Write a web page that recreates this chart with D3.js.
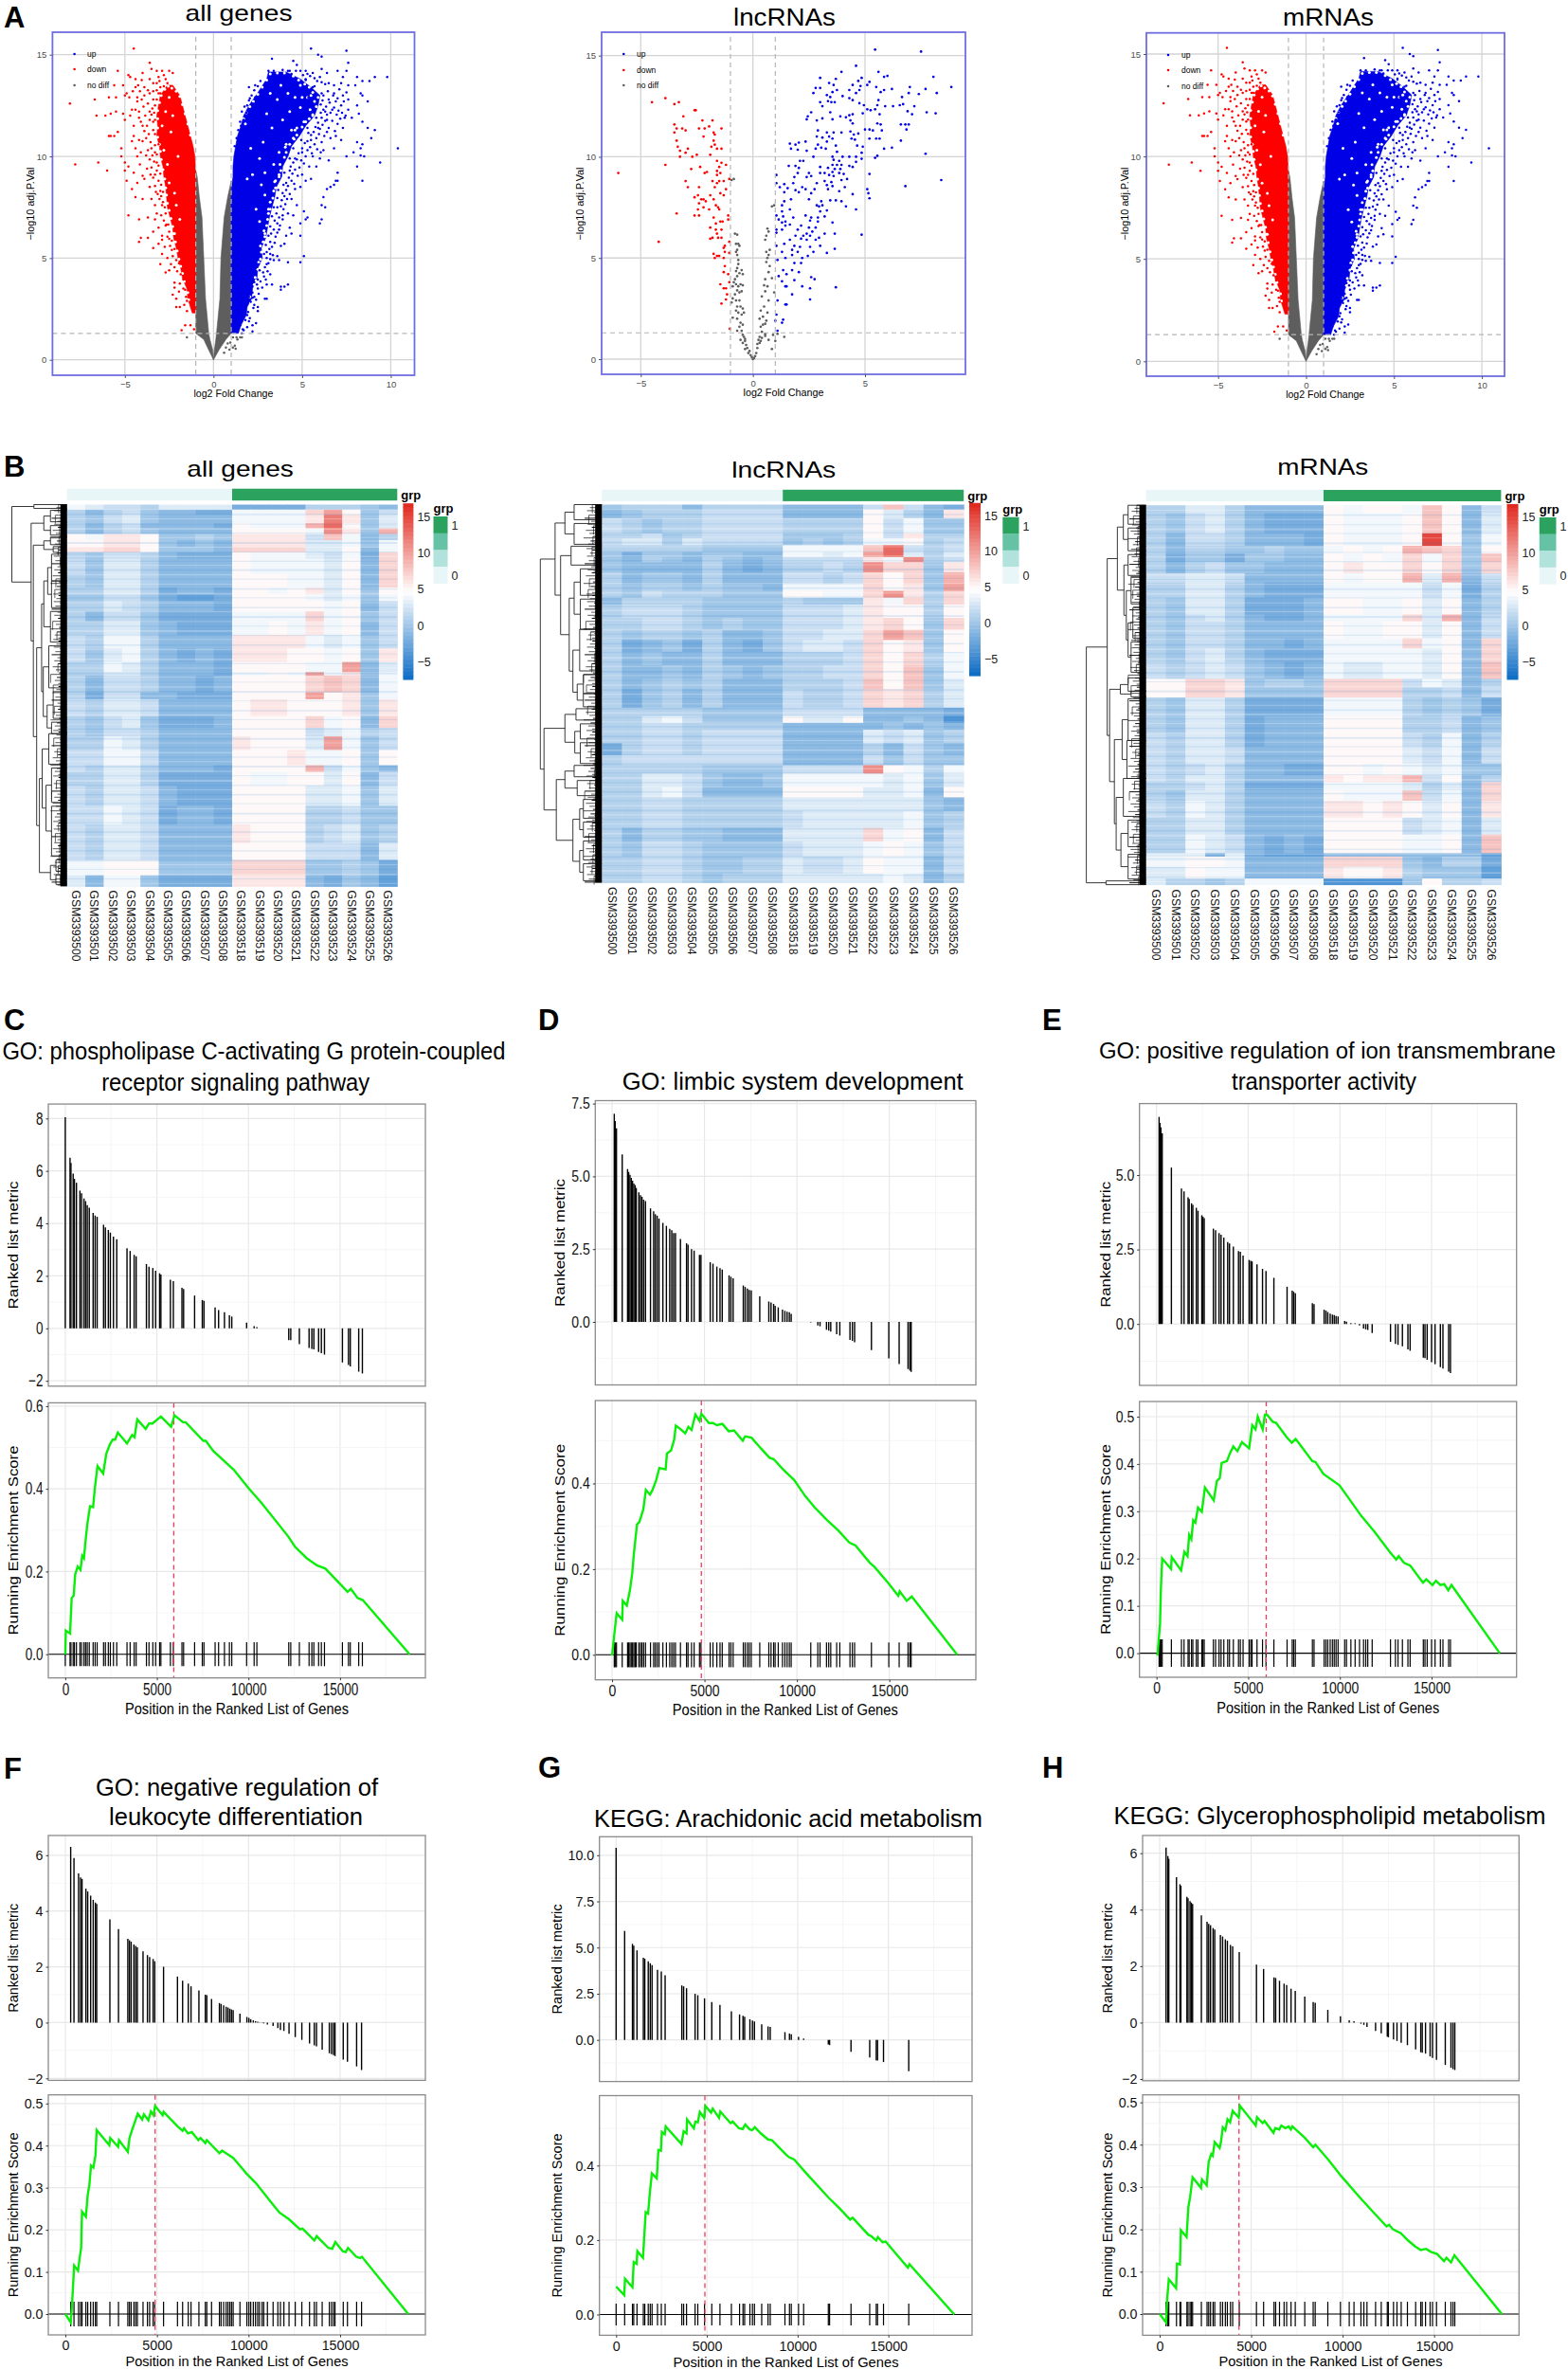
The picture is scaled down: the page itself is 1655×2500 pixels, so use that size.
<!DOCTYPE html>
<html>
<head>
<meta charset="utf-8">
<script src="https://cdn.jsdelivr.net/npm/d3@7"></script>
<style>
body { margin: 0; background: #fff; }
text { font-family: "Liberation Sans", Arial, sans-serif; }
</style>
</head>
<body>
<div id="chart"></div>
<script>
// ---------- volcano data (log2FC, -log10 adj.P) ----------
// dense parts of the two big clouds: [y, x0, x1]
const bigUpCore = [[1.3,1,1.4],[1.7,1,1.55],[2.2,1,1.85],[2.6,1,1.9],[3,1,2.15],[3.5,1,2.2],[4,1,2.45],[4.5,1,2.5],[5,1,2.75],[5.5,1,2.7],[6,1,2.95],[6.5,1,3.05],[7,1,3.15],[7.5,1,3.3],[8,1,3.45],[8.5,1.02,3.55],[9,1.1,3.85],[9.5,1.1,3.9],[10,1.15,4.2],[10.5,1.25,4.4],[11,1.35,4.85],[11.5,1.55,5.2],[12,1.7,5.7],[12.5,2,5.9],[13,2.4,6],[13.4,2.7,5.5],[13.8,3,4.9],[14.15,3.1,4.1]]
const bigDownCore = [[2.3,-1,-1.2],[3,-1,-1.45],[3.5,-1,-1.5],[4,-1,-1.75],[4.5,-1,-1.85],[5,-1,-2],[5.5,-1,-2.1],[6,-1,-2.25],[6.5,-1,-2.3],[7,-1,-2.45],[7.5,-1,-2.6],[8,-1,-2.65],[8.5,-1,-2.7],[9,-1,-2.8],[9.5,-1.02,-2.85],[10,-1.05,-3],[10.5,-1.15,-3.05],[11,-1.3,-3.2],[11.5,-1.45,-3.15],[12,-1.6,-3.2],[12.5,-1.75,-3.1],[13,-1.9,-3],[13.5,-2.3,-2.6]]
const bigGreyLeft = [[0,0,0],[.5,-.05,-.28],[1,-.2,-.55],[1.3,-.27,-1],[3,-.45,-1],[5,-.55,-1],[7,-.65,-1],[8,-.8,-1],[9,-.92,-1],[9.3,-1,-1]]
const bigGreyRight = [[0,0,0],[.5,.05,.32],[1,.13,.7],[1.3,.17,1],[3,.36,1],[5,.42,1],[7,.6,1],[8,.8,1],[8.8,1,1]]
const bigUpPoints = [[10.4,10.4],[9.4,9.7],[9.8,13.9],[9.1,13.9],[8.8,13.7],[8.4,13.7],[8.1,13.9],[7.5,15.2],[5.5,15.3],[5.9,15],[6.1,14.9],[3.3,14.8],[4.5,14.7],[4.7,14.5],[7.6,14.6],[7.5,14.2],[7,14.2],[6.4,14.1],[6.1,14.3],[7.3,13.9],[8,13.5],[7.6,13.5],[7.2,13.6],[8.3,13.1],[8.4,13],[8.7,12.7],[8.1,12.5],[8.2,12.1],[7.6,12.3],[7.8,11.9],[8.4,11.7],[8.7,11.4],[9.1,11.3],[8.9,10.9],[8.1,10.7],[8.4,10.6],[8.3,10.4],[7.9,10.2],[8.3,10.05],[8.5,10],[7.5,10],[8.1,9.5],[8.4,8.8],[7,9.2],[6.9,8.8],[6.6,8.5],[6.8,8.6],[7,8.8],[6.2,8],[6.4,8.4],[6.1,7.6],[6.3,7.5],[6.1,6.9],[6,6.7],[5.1,7.3],[5.3,7],[5.2,6.9],[4.9,6.7],[4.9,6.1],[5.1,5.1],[4.9,4.8],[4.2,4.8],[3.7,4.9],[4,3.6],[4.2,3.7],[3.8,3.6],[3.8,3.45],[3.2,4.2],[3.3,3.7],[3,3.7],[2.9,3],[3,3],[2.5,2.6],[2.5,2.4],[2.4,1.8],[2.2,1.7],[2,1.9],[1.9,1.6],[2.2,1.4],[1.6,1.3],[1.8,2.6],[2.2,3.3],[2,3.1],[3.4,4.9],[3.6,5.1],[3.2,5.2],[3,5.3],[3.8,5.6],[4,5.7],[4.4,6.2],[4.3,6.5],[4.1,6.1],[3.7,6.4],[3.6,6.7],[3.9,7.1],[4.2,7.2],[4.5,7.1],[4.7,7.6],[4.4,7.9],[4.6,8.4],[4.9,8.5],[5.2,8.8],[5.5,8.9],[5.8,9.5],[5,9.1],[5.4,9.5],[5.6,10],[6,9.9],[6.2,10.3],[6.5,9.8],[6.8,10.4],[7.2,10.8],[6.6,10.9],[6.9,11],[7.3,11.4],[7,11.6],[7.4,11.9],[6.4,11.2],[6.1,10.7],[5.8,10.9],[5.3,10.3],[7.2,12.5],[7.6,12.8],[7.3,13],[6.8,13.1],[6.5,13.6],[6.8,13.5],[6,13.9],[5.6,14.1],[5.2,14.2],[4.9,14.2],[2,13.4],[1.9,12.5],[2.2,12.6],[1.6,12.2],[1.5,11.7],[1.4,11.3],[1.3,10.9],[1.2,10.5],[5.2,13.8],[5.6,13.4],[6.2,13],[6.5,12.8],[6.7,12.3],[6.4,11.8],[6.9,12.7],[5.9,11.4],[5.5,10.8],[5,10.4],[4.6,9.9],[4.3,9.3],[4.1,8.7],[3.9,8.2],[3.6,7.5],[3.4,6.4],[3.2,5.8],[3,4.7],[2.8,4.3],[2.5,3.5],[2.3,2.7],[1.9,2.2],[1.5,1.7],[1.7,1.45],[3.7,13.9],[4.3,14.2],[3.4,14.2],[3.1,14.2]]
const bigUpFringe = [[1.65,1.5],[1.8,1.95],[1.95,2.35],[2.05,2.05],[2.1,2.85],[2.25,2.55],[2.3,3.1],[2.4,2.95],[2.45,3.7],[2.55,3.25],[2.65,3.85],[2.6,4.4],[2.75,3.55],[2.85,4.1],[2.9,4.55],[2.95,3.95],[3.05,4.35],[3,5],[3.1,4.75],[3.15,5.45],[3.2,4.95],[3.3,5.55],[3.25,6.2],[3.35,5.15],[3.45,5.75],[3.45,6.85],[3.5,6.05],[3.6,6.25],[3.55,7.2],[3.7,7],[3.75,6.6],[3.8,7.55],[3.85,7.85],[3.9,6.9],[3.95,7.4],[4,8.05],[4.05,7.65],[4.1,8.35],[4.15,7.9],[4.2,8.55],[4.25,8.95],[4.3,8.15],[4.35,9.5],[4.4,8.8],[4.45,9.15],[4.5,9.7],[4.55,8.65],[4.6,9.35],[4.7,9.85],[4.75,9.05],[4.8,10.15],[4.85,9.45],[4.95,9.8],[5,10.2],[5.1,9.65],[5.15,10.65],[5.2,10],[5.3,10.75],[5.35,11.15],[5.45,10.45],[5.5,11.05],[5.55,10.15],[5.65,11.2],[5.7,10.6],[5.75,11.45],[5.85,10.35],[5.9,11.65],[5.95,11.1],[6,11.35],[6.05,10.2],[6.1,11.9],[6.15,11.55],[6.2,12.3],[6.25,11],[6.3,11.75],[6.35,12.45],[6.4,12.05],[6.45,13.2],[6.5,11.4],[6.55,12.65],[6.6,12.15],[6.7,11.75],[6.75,13],[6.8,12.4],[6.85,11.25],[6.95,12.05],[7,12.85],[7.05,12.25],[7.1,13.3],[7.15,11.85],[7.25,12.15],[7.35,12.7],[7.45,12],[7.5,13.15],[6.3,13.55],[6.1,13.65],[5.85,13.7],[5.7,13.85],[5.45,13.95],[5.3,14.05],[5.05,14],[4.65,14.2],[4.4,14.05],[3.9,14.25],[2.65,13.7],[2.5,13.45],[2.3,13.25],[2.15,13],[2.05,12.85],[1.85,12.15],[1.7,11.8],[1.55,11.5],[1.75,12.45],[2,12.75],[2.35,13.5],[5.35,12.9],[5.5,12.6],[6.05,12.55],[6.15,12.75],[6.3,12.2],[2.2,3.05],[2.5,3.95],[2.55,4.7],[2.85,5.2],[2.95,5.65],[3.1,6.1],[3.2,6.55],[3.3,7.05],[3.4,7.5],[3.6,7.95],[3.65,8.35],[3.95,8.6],[4,9.2],[4.3,9.9],[4.5,10.4],[4.95,10.8],[5.3,11.4],[5.8,11.9],[6.05,12.15],[6.1,13.1],[5.7,13.45],[5.2,13.75],[4.2,14.2],[2.1,12.2],[2.35,12.9]]
const bigDownPoints = [[-8.1,12.6],[-7.8,9.6],[-6.7,12.8],[-6.6,12],[-6.5,9.7],[-6.1,12],[-6,9.3],[-5.9,11],[-5.8,12.1],[-5.8,11],[-5.6,11],[-5.5,12.9],[-5.9,12.9],[-5.5,12.2],[-5.4,11.2],[-5.4,14.2],[-5.6,13.5],[-4.5,15.3],[-5.1,13.5],[-5,13],[-5,9.3],[-4.8,14],[-4.7,13.9],[-4.4,13.8],[-4,14.1],[-3.6,14.6],[-3.5,14.3],[-3.2,14.2],[-2.9,14.2],[-2.5,14.2],[-2.3,14.1],[-4.4,13.4],[-4.9,13.1],[-3.9,13.4],[-3.6,13.8],[-3.2,13.6],[-3.9,13],[-4.3,12.9],[-4.3,12.7],[-3.7,12.6],[-3.4,12.8],[-3.1,13.1],[-3.4,13.2],[-4.4,12.3],[-4.6,12.3],[-5.1,12.1],[-5,11.8],[-4.2,11.9],[-4.5,11.5],[-4,11.5],[-3.6,11.8],[-3.4,11.3],[-4.5,11],[-4.2,10.8],[-3.8,10.9],[-3.5,10.4],[-4.1,10.2],[-5.2,10.4],[-5.2,10],[-4.3,10],[-5,9.7],[-4.8,9.5],[-4.5,9.2],[-4.9,8.8],[-4.3,8.7],[-3.9,8.9],[-3.6,8.5],[-4.6,8.4],[-4.4,8],[-4,7.9],[-3.5,7.9],[-3.3,7.6],[-4.8,7.1],[-4.2,6.9],[-3.7,7],[-3.3,6.9],[-3.4,6.3],[-4.1,6],[-3.7,6],[-4.2,5.8],[-3.4,5.5],[-3.1,5.7],[-2.9,5.2],[-3,4.7],[-2.5,4.4],[-2.7,4.3],[-2.4,4.7],[-2.2,3.8],[-2.3,3.2],[-2.1,3],[-2.1,2.6],[-1.9,2.6],[-1.5,2.4],[-1.6,1.7],[-1.3,1.7],[-1.1,1.5],[-1.8,1.45],[-1.5,2.9],[-1.7,3.5],[-2.6,5],[-2.9,6.1],[-3.2,7.2],[-2.9,7.6],[-3,8.3],[-3.3,9.1],[-3.2,9.7],[-3.1,10.6],[-3.3,11.1],[-3.6,12.2],[-3.3,12.5],[-3,13.4],[-2.7,13.8],[-2.8,14],[-3.1,13.9]]
const bigDownFringe = [[-1.55,3.1],[-1.7,3.95],[-1.85,4.2],[-1.95,4.75],[-2.1,4.9],[-2.2,5.45],[-2.3,5.1],[-2.35,5.85],[-2.45,5.6],[-2.5,6.3],[-2.6,6.05],[-2.65,6.65],[-2.7,7.2],[-2.8,6.85],[-2.85,7.75],[-2.95,7.1],[-2.95,8.6],[-3.05,7.9],[-3.1,8.8],[-3.15,8.15],[-3.2,9.3],[-3.3,8.55],[-3.35,9.75],[-3.4,8.95],[-3.45,10.05],[-3.5,9.45],[-3.55,10.7],[-3.6,9.85],[-3.65,11.1],[-3.7,10.3],[-3.75,11.5],[-3.8,10.05],[-3.85,12],[-3.9,11.25],[-3.95,12.45],[-4,10.75],[-4.05,12.8],[-4.1,11.7],[-4.15,13.2],[-4.2,12.2],[-3.4,13.6],[-3.7,13.25],[-3.05,13.7],[-2.6,13.6],[-3.5,12.05],[-3.45,12.35],[-3.3,11.8],[-3.3,10.2],[-3.2,13.25],[-3.6,13.1],[-2.2,3.55],[-1.95,3.35],[-1.65,2.7],[-2.9,5.9],[-2.75,5.55],[-3.1,6.5],[-3.25,8.25],[-3.55,9.1],[-3.75,9.4],[-4,9.05],[-4.15,9.6],[-4.4,10.4],[-4.6,10.75],[-4.7,12],[-4.75,12.9],[-4.55,13.2],[-4.25,13.5],[-4.05,13.75],[-1.6,3.45],[-1.9,3.75],[-2.05,4.35],[-2.2,4.55],[-2.35,5.4],[-2.5,5.95],[-2.55,6.65],[-2.7,6.6],[-2.75,7.5],[-2.85,8.25],[-2.95,8.05],[-3,9.15],[-3.1,9.55],[-3.2,10.1],[-3.3,10.55],[-3.4,11.7],[-3.35,12.15],[-3.2,12.8],[-3,13.1],[-2.8,13.45]]
const bigGreyPoints = [[1.1,1.1],[1.3,1.1],[1.5,1.1],[1.6,1.1],[1.35,1],[1.2,.7],[1.1,.6],[1.25,.55],[-1.5,1.1],[.9,.5],[.7,.6],[.95,.85],[.8,.8],[.6,.35]]
// unfilled specks inside the dense parts and along their outer edge
const bigGaps = [[3.6,12.8],[4.4,11.3],[3.7,10.2],[2.6,9.9],[3.3,11.4],[4.9,12.4],[5.3,12.9],[2.9,8.1],[2.4,7.4],[1.9,8.9],[2.9,9.2],[4.3,12.2],[3,12.1],[2.2,9.1],[3.9,11.8],[2.8,10.7],[3.5,8.8],[4.6,12.9],[4.2,13.1],[2.6,6.8],[5.6,12],[5.2,11.7],[4.7,11.4],[4.1,10.6],[3.4,9.6],[5,12.9],[5.5,13],[4.9,13.5],[4.5,10.9],[3.1,7.4],[2.7,8.6],[2.1,10.4],[1.8,11.6],[3.2,13.1],[3.8,13.5],[2.9,6.2],[3.7,9.1],[-2,10],[-2.4,11.2],[-2.6,9.6],[-2.2,8.2],[-2.7,12.2],[-1.9,6.9],[-2.1,7.6],[-2.5,12.9],[-2.9,11.5],[-2.8,10.3],[-2.5,8.7],[-2.2,6.2],[-2.3,12]]
const bigEdgeBites = [[2.05,3.1],[2.1,2.8],[2.3,3.7],[2.35,4.05],[2.4,3.9],[2.5,4.45],[2.55,4.8],[2.65,4.95],[2.7,5.3],[2.65,5.6],[2.8,5.8],[2.9,6.05],[2.85,6.35],[3,6.6],[3.05,6.9],[3.1,7.2],[3.2,7.4],[3.2,7.75],[3.35,7.95],[3.4,8.3],[3.5,8.45],[3.45,8.75],[3.7,9],[3.8,9.3],[3.75,9.6],[4,9.95],[4.1,10.2],[4.05,10.45],[4.3,10.6],[4.55,10.85],[4.7,11.05],[4.6,11.3],[5,11.45],[5.1,11.7],[5.4,11.85],[5.6,12.05],[5.45,12.3],[5.8,12.45],[5.7,12.7],[5.9,12.9],[5.6,13.15],[5.4,13.4],[5.15,13.55],[4.8,13.75],[4.5,13.95],[4,14.1],[3.6,14.1],[3.2,14.05],[3,13.75],[2.75,13.4],[2.5,13.05],[2.25,12.7],[2.05,12.45],[1.85,12.15],[1.7,11.85],[-1.4,2.95],[-1.45,3.3],[-1.65,3.85],[-1.75,4.25],[-1.85,4.6],[-1.95,4.95],[-2.05,5.35],[-2.15,5.8],[-2.25,6.2],[-2.3,6.55],[-2.4,6.95],[-2.5,7.35],[-2.6,7.7],[-2.65,8.1],[-2.7,8.45],[-2.75,8.9],[-2.85,9.35],[-2.95,9.85],[-3,10.25],[-3.05,10.6],[-3.15,10.95],[-3.15,11.4],[-3.15,11.85],[-3.15,12.25],[-3.05,12.65],[-2.95,13],[-2.75,13.3],[-2.55,13.45],[-2.35,13.35],[-2.1,13.2],[-1.9,12.95],[-1.75,12.55],[-1.6,12.1],[-1.45,11.6],[-1.3,11.05]]

const lncUpPoints = [[5.45,15.3],[7.5,15.2],[4.6,14.5],[5.6,14.2],[3.95,14.2],[6,14],[5.85,13.95],[8.05,13.95],[4.85,13.9],[3,13.9],[3.7,13.85],[4.7,13.75],[5.2,13.7],[3.4,13.65],[3.6,13.55],[4.45,13.55],[5.1,13.55],[4.8,13.5],[7,13.45],[5.5,13.45],[8.85,13.45],[6.2,13.35],[3.75,13.3],[3,13.4],[2.8,13.4],[4.75,13.3],[5.85,13.3],[7.7,13.35],[4.3,13.3],[4.6,13.15],[5.7,13.2],[7.4,13.1],[8.2,13.15],[6.95,13.15],[2.7,13.15],[3.3,13.05],[3.55,13.2],[3.45,12.95],[4,13],[4.3,12.9],[6.65,12.95],[5.6,12.8],[3.35,12.75],[3.5,12.7],[3.65,12.7],[4.45,12.8],[4.75,12.65],[6.25,12.5],[6.55,12.55],[6.7,12.6],[7.2,12.5],[5.9,12.5],[5.55,12.55],[4.95,12.55],[3,12.7],[3.1,12.5],[5.1,12.35],[5.25,12.3],[5.45,12.35],[2.6,12.2],[2.45,12],[3.45,12.2],[3.9,12],[4.3,12.05],[4.15,11.95],[4.45,12.1],[4.9,12.15],[5.65,12.1],[7.1,12.1],[7.75,12.2],[8.15,12.15],[6.9,12.25],[2.4,11.85],[2.85,11.8],[3.1,11.9],[3.55,11.85],[4.35,11.8],[4.45,11.65],[5.55,11.65],[5.7,11.6],[5,11.35],[6.6,11.6],[6.8,11.6],[6.95,11.6],[6.85,11.35],[5.2,11.35],[5.35,11.3],[5.75,11.3],[2.9,11.3],[3.3,11.2],[3.6,11.2],[3.95,11.2],[4.35,11.25],[4.5,11.1],[4.7,11.15],[2.85,11],[3.1,10.95],[3.4,11],[3.55,10.9],[4.4,10.9],[4.55,10.85],[5.2,10.9],[5.5,10.9],[5.65,10.9],[6.6,10.8],[6.2,10.45],[1.65,10.65],[1.9,10.6],[2.05,10.7],[2.35,10.75],[2.9,10.6],[3.3,10.75],[3.05,10.45],[3.25,10.4],[1.7,10.4],[2,10.35],[2.4,10.3],[2.8,10.4],[3.7,10.55],[4.65,10.55],[4.9,10.5],[5.85,10.4],[7.7,10.15],[3.75,10.25],[4.85,10.2],[5.55,10.05],[5.45,9.95],[2.7,10],[3.55,10],[4,10],[4.3,10],[4.6,10],[4.85,9.9],[3.6,9.85],[3.85,9.8],[2.1,9.8],[2.25,9.8],[4.6,9.75],[3.55,9.6],[3.75,9.6],[3.95,9.6],[4.3,9.55],[4.45,9.5],[1.6,9.55],[1.9,9.55],[2.05,9.45],[3,9.5],[3.35,9.45],[3.65,9.4],[3.9,9.4],[2,9.2],[2.5,9.2],[3,9.2],[3.2,9.2],[3.55,9.25],[3.85,9.2],[4.05,9.15],[1.05,9.1],[1.85,9],[2.4,9],[2.6,9.05],[3.4,9.1],[3.6,9.05],[5.2,9.15],[3.2,8.8],[3.5,8.75],[3.95,8.85],[4.2,8.9],[8.4,8.85],[1.05,8.7],[1.4,8.65],[1.8,8.7],[2.2,8.5],[2.85,8.7],[3.3,8.6],[3.55,8.55],[4.1,8.5],[6.8,8.55],[1.2,8.5],[1.55,8.45],[1.9,8.35],[2.35,8.4],[2.75,8.4],[3.35,8.4],[3.85,8.3],[5.1,8.4],[1.4,8.25],[2.05,8.25],[2.6,8.2],[4.45,8.15],[5.15,8.2],[1.4,7.8],[1.7,7.9],[2.5,7.9],[3.05,7.8],[3.45,7.85],[3.7,7.85],[3.95,7.8],[5.2,7.95],[1.3,7.6],[2.85,7.6],[2.95,7.55],[3.1,7.6],[1.3,7.3],[1.65,7.4],[3,7.3],[3.3,7.35],[4.6,7.4],[4.15,7.55],[1.05,7.1],[1.35,7.05],[1.8,7],[2.35,7.1],[2.6,7],[2.9,7],[3.2,7.05],[1.15,6.9],[1.3,6.75],[1.45,6.8],[1.65,6.65],[2.15,6.6],[2.55,6.85],[2.9,6.8],[3.55,6.75],[1.05,6.4],[1.3,6.4],[1.45,6.6],[2,6.4],[2.5,6.5],[2.8,6.5],[2.4,6.2],[2.65,6.3],[3.2,6.2],[3.65,6.2],[1.05,6.25],[1.9,6.1],[2.25,6.1],[2.55,6.1],[2.95,6],[4.85,6.15],[1.65,5.9],[2.15,5.95],[2.4,5.9],[2.8,5.9],[1.05,5.6],[1.4,5.7],[1.85,5.6],[2.1,5.55],[2.55,5.55],[3,5.6],[3.65,5.45],[1.3,5.3],[1.75,5.4],[2,5.3],[2.7,5.3],[3.3,5.25],[1.45,5],[1.75,5.15],[2.2,5],[2.45,5.1],[1.1,4.9],[1.85,4.75],[2.15,4.75],[1.35,4.4],[1.75,4.4],[1.15,4.1],[1.5,4.2],[2.05,4.3],[2.6,4.05],[2.75,3.95],[1.3,3.85],[1.85,3.9],[2.2,3.6],[1.45,3.6],[1.5,3.6],[2.55,3.5],[3.7,3.55],[1.75,3.2],[2.55,2.95],[1.1,2.9],[1.5,2.7],[1.45,2.7],[1.05,2.2],[1.35,1.95],[1.3,1.8],[1,1.9],[1.1,1.4]]
const lncDownPoints = [[-6,9.2],[-4.5,12.7],[-3.9,12.9],[-3.5,12.6],[-3.3,12.7],[-3.1,12],[-2.6,12.3],[-2.55,12.3],[-2.25,11.8],[-1.8,11.8],[-3.5,11.6],[-3.4,11.4],[-3.5,11.2],[-3.15,11.4],[-3,11.3],[-2.4,11.4],[-2.15,11.4],[-1.95,11.5],[-1.75,11.2],[-1.7,11.1],[-1.4,11.4],[-3.4,10.8],[-3.35,10.5],[-2.2,11],[-1.75,10.8],[-1.7,10.6],[-1.85,10.5],[-1.6,10.4],[-1.4,10.4],[-2.9,10.4],[-3.25,10.3],[-3.25,10],[-3,10.2],[-2.7,10],[-2.5,10.1],[-1.9,10.1],[-3.9,9.6],[-2.75,9.4],[-2.35,9.5],[-1.6,9.8],[-1.5,9.5],[-1.4,9.7],[-1.2,9.6],[-2.15,9.2],[-2.05,9.25],[-1.6,9.3],[-1.6,9.1],[-1.45,9.2],[-1.05,8.9],[-3,8.8],[-2.9,8.5],[-2.4,8.5],[-1.8,8.8],[-1.6,8.7],[-1.5,8.8],[-1.3,8.8],[-1.7,8.5],[-1.2,8.4],[-2.45,8.1],[-2.6,8],[-1.9,8.1],[-1.45,8.2],[-1.3,8.1],[-2.3,7.9],[-2.2,7.9],[-2.1,7.8],[-1.75,7.9],[-2.4,7.7],[-1.65,7.6],[-1.55,7.5],[-1.5,7.4],[-2.45,7.4],[-2.2,7.5],[-1.95,7.4],[-3.4,7.2],[-2.6,7.1],[-2.4,7.1],[-1.75,7],[-1.1,7.1],[-1.1,6.9],[-1.45,6.8],[-1.35,6.8],[-1.65,6.7],[-1.65,6.4],[-1.9,6.5],[-1.4,6],[-1.6,6.2],[-1.9,5.95],[-1.8,6],[-1.55,6],[-1.4,6.4],[-4.2,5.8],[-1.05,5.8],[-1.25,5.6],[-1.3,5.5],[-1.25,5.3],[-1.05,5.25],[-1.75,5.2],[-1.6,5.1],[-1.7,5],[-1.5,5.1],[-1.3,5],[-1.25,4.6],[-1.1,4.2],[-1.3,4.3],[-1.05,3.8],[-1.45,3.7],[-1.3,3.5],[-1.2,3.5],[-1.15,3.2],[-1.4,2.75],[-1.2,2.95],[-1.03,1.5]]
const lncGreyPoints = [[-.95,8.85],[-.85,8.9],[-.8,6.2],[-.7,6.15],[-.75,5.7],[-.65,5.7],[-.6,5.6],[-.7,5.4],[-.75,5.3],[-.7,5.15],[-.65,4.9],[-.65,4.7],[-.7,4.5],[-.75,4.35],[-.6,4.25],[-.5,4.4],[-.45,4.2],[-.7,4.1],[-.8,3.95],[-.85,3.8],[-.9,3.6],[-.75,3.7],[-.65,3.6],[-.55,3.7],[-.45,3.65],[-.7,3.4],[-.6,3.3],[-.5,3.35],[-.8,3.2],[-.9,3],[-.95,2.8],[-.75,2.9],[-.6,2.9],[-.7,2.6],[-.55,2.6],[-.45,2.5],[-.75,2.4],[-.65,2.3],[-.4,2.3],[-.5,2.2],[-.9,2.05],[-.7,2],[-.55,1.8],[-.6,1.6],[-.45,1.7],[-.7,1.4],[-.5,1.4],[-.45,1.2],[-.4,1.1],[-.55,.95],[-.45,.8],[-.35,.9],[-.3,.7],[-.35,.5],[-.25,.55],[-.2,.3],[-.15,.4],[-.1,.2],[-.05,.1],[0,0],[.05,.05],[.1,.15],[.15,.3],[.2,.55],[.2,.75],[.3,.8],[.35,.9],[.25,.95],[.4,1.05],[.4,1.35],[.55,1.15],[.7,.95],[.85,.5],[1,.9],[1.4,1.1],[1.1,1.25],[.9,1.2],[.35,1.6],[.45,1.7],[.55,1.75],[.6,1.9],[.3,2],[.45,2.1],[.65,2.3],[.35,2.4],[.5,2.6],[.7,2.9],[.4,3.1],[.95,3.3],[.55,3.35],[.65,3.6],[.5,3.65],[.55,3.95],[.85,4],[.7,4.3],[.75,4.6],[.6,4.8],[.65,5],[.7,5.15],[.75,5.4],[.6,5.3],[.55,5.9],[.6,6.1],[.7,6.3],[.65,6.45],[.85,7.55],[.95,7.6],[.55,1.25],[.3,1.1],[-.35,1]]

// ---------- heatmap data, panel B ----------
const samples = ['GSM3393500','GSM3393501','GSM3393502','GSM3393503','GSM3393504','GSM3393505','GSM3393506','GSM3393507','GSM3393508','GSM3393518','GSM3393519','GSM3393520','GSM3393521','GSM3393522','GSM3393523','GSM3393524','GSM3393525','GSM3393526']
const allRowShare = [15,15,25,15,17,18,20,16,19,45,40,20,20,30,30,40,40,40,30,10,50,20,50,35,25,40,45,20,40,60,55,55,50,45,33]
const allRows = [
[4,3,2,2,1,3,3,3,3,-2,-2,-2,-2,1,1,1,0,-1],[1,-1,1,2,0,-1,-1,-2,-2,4,4,4,4,7,10,5,0,2],[1,0,2,3,0,-1,-1,-1,-1,4,4,4,4,6,12,6,0,3],[1,-1,1,2,-1,-1,-1,-1,-2,5,4,4,4,9,13,5,0,3],[1,-1,1,2,0,-1,-1,-1,-1,5,5,5,5,4,11,6,0,9],
[5,4,6,6,5,0,0,1,0,6,6,6,6,2,8,4,-1,1],[5,5,6,6,5,0,-1,0,-1,6,6,6,6,3,3,4,0,4],[6,6,7,7,5,0,0,0,-1,7,7,7,7,3,3,5,-1,4],[1,0,2,2,1,-1,-2,-2,-2,5,4,4,4,3,2,4,-2,7],[2,0,3,3,1,-1,-1,-1,-1,5,4,4,4,4,3,5,-1,7],
[1,0,3,3,1,-1,-1,-1,-1,5,5,5,4,4,3,5,-1,7],[1,1,3,3,1,-2,-1,-1,-2,5,5,4,5,6,3,5,0,5],[0,0,2,2,0,-2,-3,-3,-2,5,5,5,5,4,3,4,0,4],[1,1,3,2,1,-1,-1,-1,-2,5,5,5,5,5,4,5,-1,2],[1,-1,2,2,0,-2,-2,-2,-2,4,4,4,4,7,4,5,0,2],
[1,1,3,3,0,-1,-2,-2,-2,4,4,5,4,6,4,5,-1,2],[2,1,4,4,1,-1,-1,-1,-1,6,6,6,6,4,3,4,0,2],[2,0,3,4,1,-1,-2,-1,-2,6,6,6,5,5,4,5,0,6],[1,1,4,3,1,-1,-1,-1,-2,5,5,5,5,4,4,10,-1,3],[1,1,3,3,1,-1,-1,-1,-2,4,4,5,4,10,4,6,0,4],
[1,-1,2,2,1,-1,-1,-2,-1,5,5,5,5,7,8,7,-1,4],[1,-2,2,2,-1,-1,-2,-2,-2,5,5,5,5,10,5,6,0,4],[2,1,3,3,2,-1,-1,-1,-1,5,6,6,5,5,5,6,0,6],[1,0,2,3,0,-2,-2,-2,-1,5,5,5,5,7,4,5,-1,7],[1,0,2,2,1,-1,-1,-1,-1,5,5,5,5,2,3,4,1,2],
[1,1,4,3,1,-1,-1,-1,-1,6,5,5,5,3,10,4,0,2],[2,2,4,4,2,-1,-1,-1,-1,5,5,5,6,4,4,5,0,5],[2,1,3,3,1,-1,-1,-1,-2,5,5,5,5,9,2,4,0,-1],[1,1,3,3,1,-2,-2,-2,-2,5,4,4,5,5,3,5,-1,2],[2,1,3,3,2,-1,-2,-2,-2,5,5,5,5,3,3,4,0,3],
[2,2,4,3,2,-2,-1,-1,-2,5,5,5,5,1,1,2,0,0],[2,1,3,3,2,-1,-1,-1,-1,6,5,5,5,1,2,3,0,1],[2,1,3,3,2,-1,-1,-1,-1,5,5,5,5,2,2,2,-1,3],[4,4,5,5,5,0,0,0,0,7,7,7,7,0,0,1,0,-2],[3,-1,4,4,0,-2,-2,-2,-2,6,6,6,6,-1,-2,0,-1,-3]]
const lncRowShare = [15,25,45,15,20,20,15,15,30,35,20,20,20,40,35,30,35,40,40,30,55,25,20,20,40,35,30,25,40,30,40,50,40,45,50,27]
const lncRows = [
[0,1,1,1,-1,1,1,1,1,-1,-1,-1,-1,2,8,2,-1,-2],[-1,0,1,1,1,2,2,2,2,-1,-1,-1,-1,5,3,1,-1,6],[2,1,0,1,1,2,2,2,2,1,1,1,1,5,2,4,0,0],[1,1,2,0,1,2,2,2,2,0,0,0,1,5,2,6,1,1],[2,3,3,1,3,2,2,2,2,0,1,0,1,4,4,5,1,2],
[1,1,1,1,1,0,0,0,0,4,4,4,4,8,13,2,1,2],[0,-2,0,0,-1,0,0,-1,-1,4,4,3,4,10,13,3,1,3],[0,-1,1,0,-1,1,0,-1,0,2,2,2,2,6,4,11,1,2],[0,-1,-1,-1,-1,1,-1,-2,-1,1,1,2,1,11,7,7,0,6],[1,-1,0,0,-1,1,-1,-1,-1,2,2,1,2,7,5,7,0,9],
[1,0,1,1,0,1,0,0,-1,4,4,4,4,7,5,6,0,10],[1,0,2,1,1,1,0,0,0,5,5,4,4,7,11,6,1,7],[-1,1,1,1,1,0,0,0,0,1,0,0,0,6,4,7,1,7],[1,2,2,2,1,0,0,0,0,2,2,2,3,6,5,5,1,5],[1,1,2,2,1,0,1,0,0,2,2,2,3,6,7,5,0,7],
[1,0,1,1,0,1,-1,-1,0,2,2,3,3,7,10,8,0,5],[1,-2,-1,0,-2,1,-1,-2,0,2,3,3,2,7,5,6,0,5],[1,-1,0,-1,-1,1,-1,-1,-1,1,1,1,2,7,5,7,1,4],[1,-1,-1,0,-1,1,0,-1,0,1,1,2,2,7,5,8,0,4],[1,-1,0,1,0,1,-1,-1,-1,1,1,1,2,8,5,8,0,3],
[1,-2,0,1,-1,1,-1,-1,-1,2,1,1,2,7,6,7,1,3],[1,1,1,1,1,0,0,0,0,2,2,2,2,-1,-1,-1,-1,-2],[1,1,3,4,2,0,0,0,0,5,3,3,5,-1,-1,0,-1,-4],[1,1,2,2,1,1,1,1,1,-1,-1,-1,-1,-1,0,-1,0,-1],[1,1,2,2,1,2,2,2,2,-1,-1,-1,-1,3,2,3,0,1],
[-2,1,2,2,1,2,2,2,2,-1,-1,-1,-1,1,-1,2,0,-1],[1,2,2,2,2,2,2,2,2,-1,-1,-1,-1,2,0,2,0,0],[1,1,1,1,1,0,0,0,0,2,2,2,2,11,5,4,1,4],[1,1,3,3,2,0,-1,-1,0,4,4,4,4,4,3,4,0,3],[1,1,3,4,2,-1,-1,-1,-1,5,5,5,5,3,3,4,-1,5],
[1,1,2,2,1,1,1,1,1,3,3,3,3,3,3,3,0,-1],[1,1,2,2,1,1,1,1,1,2,3,3,3,3,3,4,0,1],[1,-1,1,1,0,0,-1,-1,-1,3,3,3,3,7,4,5,-1,2],[1,0,2,2,1,0,0,0,0,2,3,3,3,4,5,4,0,2],[1,1,2,2,1,0,0,1,1,3,2,2,3,5,4,4,-1,2],[1,1,2,2,1,0,1,1,1,3,3,3,3,3,4,3,-1,1]]
const mrnaRowShare = [23,60,37,23,25,33,27,45,50,20,50,30,40,50,25,30,55,50,40,50,35,20,25,30,50,50,55,10,30,35,18]
const mrnaRows = [
[1,1,3,3,1,-1,-1,-1,-1,5,4,5,5,4,8,5,-1,2],[1,0,2,3,1,-1,-2,-2,-2,5,4,4,4,5,8,5,-1,3],[1,-1,2,2,1,-1,-1,-1,-2,5,4,4,4,5,15,5,0,4],[1,-1,1,1,0,0,1,0,0,4,5,4,5,9,8,7,0,5],[1,-2,0,0,-2,0,0,-1,-1,5,4,5,4,7,4,7,0,8],
[1,-1,1,2,0,0,-1,-1,-1,5,6,5,5,7,5,7,0,7],[2,2,3,3,2,-1,-1,-1,-1,5,4,5,5,9,3,9,-1,2],[1,1,3,3,1,-1,-2,-2,-2,4,4,4,4,4,2,4,-2,1],[1,0,3,3,1,-2,-2,-2,-1,5,5,4,4,5,3,5,-1,1],[1,0,2,3,1,-1,-2,-2,-1,4,4,4,4,7,3,9,-1,2],
[1,0,2,2,1,-1,-1,-1,-1,5,4,4,5,5,3,5,-1,2],[1,0,2,2,1,-1,-1,-2,-1,4,4,4,4,7,4,5,-1,7],[1,0,2,3,1,-1,-2,-2,-2,4,4,4,4,4,3,5,-1,7],[2,1,2,3,2,0,-1,-2,-1,4,3,3,4,4,3,5,-1,8],[5,5,7,7,6,0,1,1,0,7,7,7,7,2,4,3,-1,1],
[5,5,7,7,6,0,0,0,0,7,7,7,7,1,1,2,-1,2],[1,0,3,3,1,-2,-2,-2,-2,4,4,4,4,1,0,1,0,-2],[1,0,3,3,1,-2,-1,-1,-1,5,5,5,5,1,1,2,-1,0],[2,1,3,3,1,-2,-1,-1,-1,5,5,5,5,2,1,4,-1,1],[2,1,3,3,2,-1,-1,-1,-1,5,5,5,5,3,2,4,-1,2],
[2,1,2,3,1,-1,-1,-2,-2,5,5,4,5,4,3,4,0,0],[2,1,3,3,1,-1,-1,-1,-1,6,5,6,6,9,2,5,-1,1],[1,1,2,3,1,-2,-2,-2,-2,4,4,4,4,3,1,3,-1,7],[1,0,3,3,1,-1,-1,-1,-1,5,4,4,4,8,2,4,-1,7],[2,1,4,3,1,-1,-1,-1,-1,6,6,5,6,5,3,5,-1,6],
[1,1,3,3,1,-1,-1,-1,-1,5,5,5,5,2,3,4,-1,3],[1,1,4,3,2,-1,-2,-1,-2,5,5,5,5,4,4,5,-1,8],[3,3,3,-2,3,-2,-3,-3,-3,-1,-1,-1,-1,-1,-1,-1,-1,-3],[4,4,5,5,4,-1,-1,-1,-1,7,7,7,7,0,-1,1,1,-2],[3,3,5,4,4,-1,-1,-1,-1,6,5,5,6,1,0,0,0,-3],[3,1,1,0,1,4,4,4,4,-4,-4,-4,-4,0,5,1,1,2]]
const colorbarTicks = [15,10,5,0,-5]
// thin gene rows that run across a heatmap: [row position 0-1, lighter (1) or darker (-1), thickness px]
const geneStreaks = [[.012,1,1],[.024,-1,1.5],[.036,1,1.2],[.05,-1,1],[.061,1,2],[.073,-1,1],[.085,1,1],[.098,-1,2],[.11,1,1.2],[.123,-1,1],[.134,1,1.6],[.147,-1,1.2],[.158,1,1],[.169,-1,2],[.182,1,1.4],[.194,-1,1],[.207,1,1],[.219,-1,1.6],[.231,1,2],[.243,-1,1],[.256,1,1],[.268,-1,1.4],[.279,1,1.2],[.292,-1,2],[.305,1,1],[.317,-1,1],[.329,1,1.8],[.341,-1,1.2],[.352,1,1],[.366,-1,1.6],[.378,1,1.4],[.39,-1,1],[.403,1,2],[.415,-1,1.2],[.427,1,1],[.44,-1,1.8],[.451,1,1],[.464,-1,1],[.476,1,1.4],[.488,-1,2],[.5,1,1.2],[.513,-1,1],[.526,1,1],[.538,-1,1.6],[.549,1,1.8],[.562,-1,1],[.574,1,1],[.586,-1,1.4],[.599,1,1.2],[.611,-1,2],[.623,1,1],[.635,-1,1],[.648,1,1.6],[.66,-1,1.2],[.672,1,1],[.684,-1,1.8],[.697,1,1.4],[.709,-1,1],[.721,1,2],[.734,-1,1.2],[.746,1,1],[.758,-1,1.6],[.77,1,1],[.782,-1,1],[.795,1,1.4],[.807,-1,2],[.819,1,1.2],[.832,-1,1],[.844,1,1],[.856,-1,1.6],[.868,1,1.8],[.881,-1,1],[.893,1,1],[.905,-1,1.4],[.918,1,1.2],[.93,-1,2],[.942,1,1],[.954,-1,1],[.967,1,1.6],[.979,-1,1.2],[.991,1,1]]

// dendrograms: [height, child, child], a bare number is a row position 0-1
const allTree = [1,[.6,.0,.01],[.65,[.42,[.3,.015,.045],[.3,.055,.08]],[.61,[.42,[.3,.085,.105],[.25,.11,.125]],[.55,[.46,[.42,[.35,[.28,.13,.2],[.28,.2,.27]],[.3,.28,.36]],[.43,[.33,.37,.48],[.36,[.25,.49,.56],[.28,.57,.6]]]],[.5,[.45,[.33,.6,.68],[.38,[.28,.69,.78],[.28,.79,.92]]],[.3,[.2,.93,.96],[.2,.97,.995]]]]]]]
const lncTree = [1,[.76,[.6,[.45,.0,.04],[.45,.05,.105]],[.67,[.5,.11,.16],[.53,[.45,[.35,.17,.24],[.35,.25,.33]],[.47,[.36,.33,.44],[.4,[.3,.45,.5],[.3,.5,.535]]]]]],[.94,[.6,[.42,.54,.57],[.44,[.35,.58,.62],[.35,.63,.685]]],[.74,[.6,[.45,.69,.72],[.4,.73,.77]],[.47,[.36,[.3,.78,.83],[.3,.84,.88]],[.36,[.3,.89,.94],[.3,.95,.995]]]]]]
const mrnaTree = [1,[.65,[.48,[.38,[.3,.0,.05],[.3,.06,.12]],[.37,[.3,.13,.185],[.33,[.25,.19,.26],[.3,[.22,.27,.35],[.25,.36,.44]]]]],[.61,[.43,[.3,.455,.49],[.25,.49,.505]],[.53,[.4,[.3,.51,.62],[.32,.62,.72]],[.5,[.38,.72,.82],[.42,[.3,.83,.9],[.3,.92,.985]]]]]],[.67,.99,1]]
// depth of the leaf fringe, as a share of the leaf-side width of a dendrogram
const fringeDepth = [.32,.18,.4,.22,.5,.26,.16,.44,.24,.58,.2,.36,.15,.48,.28,.34,.19,.54,.23,.42,.17,.3,.62,.21,.38,.25,.46,.16,.33,.52]

// ---------- GSEA data, panels C-H: hits [rank, metric] and running score [rank, ES] ----------
const hitsC = [[0,8.05],[260,6.5],[310,6.3],[430,5.9],[500,5.7],[610,5.55],[800,5.25],[890,5.15],[1020,4.95],[1110,4.85],[1200,4.7],[1310,4.6],[1520,4.4],[1630,4.3],[1740,4.25],[2090,3.95],[2190,3.85],[2350,3.75],[2460,3.65],[2630,3.5],[2810,3.4],[3370,3.05],[3540,2.95],[3760,2.8],[3870,2.75],[4430,2.45],[4570,2.35],[4780,2.3],[4930,2.2],[5150,2.1],[5220,2.05],[5740,1.85],[5900,1.8],[6370,1.55],[6460,1.5],[7060,1.25],[7480,1.08],[7570,1.05],[8180,.8],[8370,.7],[8690,.62],[8960,.5],[9090,.45],[9900,.22],[10310,.08],[10460,.05],[12200,-.45],[12310,-.45],[12780,-.6],[13310,-.75],[13460,-.78],[13570,-.8],[13830,-.9],[13980,-.95],[14150,-1],[15130,-1.3],[15460,-1.4],[15560,-1.45],[16020,-1.65],[16220,-1.72]]
const esC = [[0,0],[30,.057],[260,.05],[350,.136],[460,.142],[540,.193],[680,.212],[830,.204],[925,.238],[1020,.232],[1090,.266],[1200,.313],[1350,.358],[1520,.356],[1610,.4],[1760,.455],[2070,.437],[2240,.485],[2440,.508],[2590,.519],[2720,.519],[2870,.536],[3370,.51],[3650,.53],[3780,.525],[3930,.568],[4390,.545],[4570,.558],[4760,.558],[5220,.575],[5780,.55],[5960,.578],[6430,.561],[6570,.561],[7540,.516],[7670,.516],[8090,.491],[9200,.446],[10040,.4],[10690,.367],[12170,.285],[12540,.26],[13190,.232],[13740,.215],[14200,.207],[15130,.164],[15410,.151],[15590,.158],[15960,.136],[16240,.131],[18800,0]]
const hitsD = [[120,7.15],[170,6.9],[240,6.65],[550,5.75],[840,5.25],[900,5.15],[970,5.05],[1040,4.95],[1110,4.85],[1180,4.75],[1250,4.7],[1310,4.6],[1450,4.45],[1540,4.35],[1620,4.3],[1710,4.2],[1810,4.15],[2080,3.9],[2250,3.8],[2340,3.7],[2440,3.65],[2540,3.55],[2750,3.4],[2940,3.3],[3120,3.2],[3230,3.15],[3330,3.05],[3430,3.05],[3700,2.85],[4030,2.7],[4110,2.65],[4300,2.5],[4440,2.45],[4730,2.3],[4810,2.3],[5310,2.05],[5460,2],[5670,1.9],[5840,1.85],[5960,1.8],[6330,1.6],[6430,1.55],[6550,1.5],[7100,1.25],[7200,1.2],[7320,1.15],[7420,1.1],[7530,1.08],[7990,.88],[8480,.7],[8600,.67],[8740,.62],[8820,.55],[8990,.5],[9220,.42],[9350,.38],[9470,.35],[9590,.33],[9690,.28],[10750,-.02],[11130,-.12],[11250,-.15],[11600,-.27],[11720,-.3],[11830,-.33],[12150,-.42],[12320,-.47],[12870,-.62],[13000,-.65],[13120,-.7],[14030,-.97],[14970,-1.25],[15530,-1.45],[16010,-1.62],[16110,-1.67],[16180,-1.72]]
const esD = [[0,-.002],[120,.047],[250,.097],[550,.082],[580,.126],[800,.115],[970,.151],[1090,.19],[1190,.24],[1350,.304],[1480,.31],[1690,.339],[1830,.385],[2050,.374],[2170,.383],[2390,.408],[2560,.436],[2900,.433],[2970,.47],[3190,.477],[3360,.502],[3450,.535],[3700,.527],[3960,.517],[4130,.532],[4300,.525],[4510,.561],[4730,.546],[4830,.563],[5240,.541],[5460,.541],[5670,.536],[5970,.539],[6310,.522],[6600,.524],[7070,.5],[7200,.51],[7540,.507],[8050,.482],[8520,.46],[8740,.457],[9250,.433],[9850,.408],[10440,.371],[10960,.344],[11640,.314],[12240,.29],[12830,.262],[13170,.255],[13940,.215],[14200,.205],[14970,.166],[15480,.138],[15560,.148],[15940,.126],[16210,.136],[18670,0]]
const hitsE = [[140,6.95],[190,6.75],[240,6.6],[310,6.4],[810,5.25],[1360,4.55],[1500,4.45],[1720,4.25],[1780,4.2],[1910,4.05],[1980,4],[2170,3.9],[2260,3.8],[2470,3.65],[2530,3.6],[2600,3.55],[3100,3.2],[3220,3.15],[3410,3.05],[3520,3],[3670,2.9],[3880,2.75],[3980,2.7],[4190,2.6],[4470,2.45],[4570,2.42],[4720,2.3],[5050,2.15],[5140,2.12],[5210,2.1],[5480,2],[5780,1.85],[5970,1.78],[6400,1.55],[7120,1.25],[7400,1.12],[7480,1.08],[7570,1.03],[8500,.7],[8590,.67],[9140,.48],[9240,.45],[9340,.4],[9470,.35],[9590,.32],[9690,.3],[9790,.27],[9900,.25],[10260,.1],[10360,.08],[10600,.03],[10830,.02],[11070,-.05],[11290,-.15],[11410,-.18],[11520,-.2],[11760,-.3],[12760,-.6],[13030,-.67],[13170,-.7],[13410,-.75],[13710,-.85],[13830,-.9],[14550,-1.13],[14640,-1.15],[14760,-1.2],[15000,-1.28],[15190,-1.35],[15480,-1.45],[15620,-1.5],[15930,-1.6],[16030,-1.65]]
const esE = [[50,-.005],[190,.062],[240,.138],[310,.2],[790,.178],[830,.203],[1340,.175],[1520,.214],[1690,.205],[1780,.25],[1900,.241],[2000,.281],[2120,.276],[2260,.308],[2470,.299],[2640,.35],[3120,.323],[3290,.364],[3450,.37],[3550,.402],[3840,.406],[4020,.424],[4190,.437],[4410,.427],[4660,.446],[5050,.433],[5220,.482],[5400,.473],[5520,.5],[5790,.473],[5910,.504],[6030,.504],[6340,.489],[6520,.487],[7090,.457],[7380,.445],[7590,.453],[8500,.406],[8670,.404],[9100,.379],[9970,.355],[10400,.332],[11170,.29],[11860,.258],[12720,.214],[13070,.198],[13210,.205],[13500,.191],[13840,.185],[14530,.149],[14710,.156],[15050,.144],[15240,.153],[15480,.144],[15690,.146],[15910,.133],[16090,.144],[18720,0]]
const hitsF = [[290,6.3],[470,5.9],[720,5.35],[830,5.2],[910,5.15],[1120,4.8],[1220,4.7],[1380,4.55],[1520,4.4],[1640,4.3],[1710,4.25],[2430,3.7],[2900,3.35],[3410,3],[3500,2.95],[3590,2.9],[3740,2.8],[3840,2.75],[3930,2.7],[4240,2.55],[4480,2.42],[4600,2.35],[4790,2.28],[4880,2.2],[5360,2],[6120,1.65],[6400,1.5],[6710,1.4],[6860,1.3],[7290,1.15],[7640,1],[7720,.98],[7980,.85],[8410,.7],[8500,.67],[8640,.62],[8780,.57],[8880,.54],[8980,.5],[9070,.47],[9160,.45],[9530,.32],[9910,.2],[10020,.17],[10120,.12],[10260,.08],[10380,.05],[10500,.03],[10600,.01],[10740,-.01],[10830,-.03],[11030,-.07],[11340,-.12],[11600,-.2],[11740,-.27],[11930,-.3],[12210,-.4],[12550,-.52],[12910,-.62],[13330,-.75],[13590,-.82],[13710,-.85],[14020,-.97],[14410,-1.1],[14530,-1.13],[14640,-1.17],[14720,-1.2],[15170,-1.33],[15400,-1.4],[15900,-1.57],[16170,-1.7]]
const esF = [[0,0],[290,-.02],[360,.02],[480,.115],[690,.103],[780,.133],[860,.157],[910,.243],[1120,.231],[1220,.283],[1310,.306],[1400,.353],[1530,.348],[1640,.376],[1710,.437],[2400,.401],[2450,.418],[2880,.397],[2930,.413],[3410,.385],[3500,.418],[3670,.441],[3950,.476],[4190,.462],[4290,.474],[4530,.46],[4670,.481],[4810,.472],[4900,.494],[5310,.472],[5360,.48],[6120,.446],[6400,.435],[6480,.441],[6690,.429],[6900,.432],[7260,.413],[7380,.418],[7640,.406],[7720,.413],[8410,.382],[8550,.388],[9160,.371],[9880,.334],[10400,.311],[11260,.264],[11690,.241],[12210,.225],[12810,.201],[12950,.203],[13590,.175],[13720,.185],[14360,.157],[14570,.155],[14740,.171],[15140,.149],[15310,.147],[15430,.157],[15880,.136],[16090,.133],[16190,.136],[18720,0]]
const hitsG = [[0,10.4],[470,5.9],[900,5.2],[970,5.1],[1150,4.85],[1500,4.45],[1580,4.4],[1770,4.25],[1880,4.15],[1980,4.05],[2280,3.8],[2490,3.7],[2700,3.5],[3620,2.95],[3720,2.9],[3880,2.8],[4350,2.5],[4500,2.42],[4870,2.25],[5270,2.05],[5720,1.9],[6350,1.55],[6800,1.38],[6990,1.3],[7080,1.25],[7370,1.12],[7510,1.05],[7620,1],[8020,.85],[8370,.73],[8490,.7],[9300,.42],[9550,.35],[9650,.3],[10050,.17],[10330,.08],[11690,-.25],[11760,-.28],[12940,-.65],[13970,-.95],[14330,-1.1],[14400,-1.12],[14730,-1.2],[16120,-1.7]]
const esG = [[0,.075],[450,.052],[490,.096],[900,.073],[970,.141],[1130,.136],[1170,.17],[1480,.152],[1630,.275],[1760,.271],[1860,.328],[1970,.379],[2240,.366],[2330,.442],[2470,.44],[2520,.49],[2680,.484],[2730,.505],[3600,.458],[3720,.492],[3880,.486],[3910,.524],[4280,.5],[4370,.518],[4500,.516],[4610,.544],[4850,.528],[4920,.56],[5230,.542],[5320,.553],[5670,.528],[5740,.545],[6300,.514],[6420,.518],[6770,.5],[6970,.498],[7110,.51],[7360,.497],[7500,.495],[7640,.503],[7980,.486],[8370,.47],[8590,.468],[9290,.433],[9510,.423],[9810,.416],[10590,.373],[11720,.313],[12330,.284],[12890,.255],[13030,.26],[13900,.214],[14070,.21],[14330,.199],[14420,.208],[14680,.194],[14850,.196],[16070,.126],[16160,.135],[18630,0]]
const hitsH = [[350,6.2],[450,5.9],[500,5.8],[920,5.15],[1110,4.9],[1160,4.85],[1490,4.45],[1550,4.4],[1660,4.3],[1730,4.25],[1800,4.2],[2280,3.8],[2590,3.57],[2680,3.5],[2780,3.45],[2920,3.35],[3010,3.3],[3320,3.1],[3440,3.05],[3590,2.95],[3700,2.9],[3870,2.75],[3990,2.7],[4350,2.5],[5290,2.05],[5680,1.9],[6250,1.6],[6340,1.58],[6550,1.48],[6800,1.38],[6940,1.33],[7180,1.2],[7410,1.12],[7930,.92],[8390,.73],[8500,.7],[9190,.45],[9880,.22],[10360,.08],[10620,.05],[11000,-.04],[11160,-.08],[11330,-.15],[11800,-.3],[12110,-.38],[12440,-.5],[12500,-.52],[12780,-.6],[12970,-.65],[13200,-.72],[13540,-.8],[13990,-.95],[14270,-1.05],[14350,-1.07],[14530,-1.1],[14780,-1.2],[14910,-1.25],[15130,-1.32],[15610,-1.5],[15920,-1.6],[16030,-1.65],[16130,-1.68]]
const esH = [[0,0],[350,-.02],[410,.035],[500,.082],[900,.061],[950,.119],[1110,.117],[1160,.198],[1470,.182],[1570,.253],[1660,.275],[1800,.323],[2260,.298],[2310,.318],[2570,.304],[2680,.36],[2820,.378],[2900,.374],[3010,.406],[3280,.392],[3350,.406],[3450,.441],[3590,.434],[3710,.46],[3850,.453],[3990,.48],[4320,.464],[4390,.492],[5250,.445],[5320,.465],[5630,.451],[5730,.456],[6220,.428],[6320,.439],[6530,.436],[6650,.445],[6870,.439],[7050,.443],[7170,.436],[7250,.443],[7430,.436],[7940,.416],[8390,.394],[8510,.4],[9210,.365],[9900,.327],[10930,.276],[11710,.239],[12400,.207],[12540,.211],[12750,.2],[13180,.191],[13570,.174],[13950,.16],[14270,.151],[14560,.154],[14820,.147],[15160,.142],[15540,.125],[15680,.133],[15920,.122],[16110,.139],[18700,0]]
const rankTicks = [0,5000,10000,15000]
const rankMinorTicks = [2500,7500,12500,17500]

// ---------- drawing ----------
const svg = d3.select('#chart').append('svg').attr('width', 1655).attr('height', 2500)
svg.append('rect').attr('width', 1655).attr('height', 2500).attr('fill', '#fff')

const addText = (parent, str, x, y, size, opts = {}) => {
    const t = parent.append('text')
        .attr('x', x).attr('y', y)
        .attr('font-size', size)
        .attr('text-anchor', opts.anchor || 'middle')
        .attr('fill', opts.fill || '#000')
        .attr('font-weight', opts.weight || 'normal')
        .text(str)
    if (opts.len) t.attr('textLength', opts.len).attr('lengthAdjust', 'spacingAndGlyphs')
    if (opts.rotate) t.attr('transform', `rotate(${opts.rotate},${x},${y})`)
    return t
}

const drawVolcano = (cfg) => {
    const g = svg.append('g')
    const x = d3.scaleLinear().domain([-5, 5]).range(cfg.xPx)
    const y = d3.scaleLinear().domain([0, 15]).range(cfg.yPx)
    const f = cfg.frame

    g.selectAll('.gx').data(cfg.xTicks).enter().append('line')
        .attr('x1', d => x(d)).attr('x2', d => x(d)).attr('y1', f.t).attr('y2', f.b)
        .attr('stroke', '#d4d4d4').attr('stroke-width', 1.3)
    g.selectAll('.gy').data([0, 5, 10, 15]).enter().append('line')
        .attr('x1', f.l).attr('x2', f.r).attr('y1', d => y(d)).attr('y2', d => y(d))
        .attr('stroke', '#d4d4d4').attr('stroke-width', 1.3)

    const band = d3.area().y(d => y(d[0])).x0(d => x(d[1])).x1(d => x(d[2]))
    if (cfg.cores) {
        cfg.cores.forEach(c => {
            g.append('path').attr('d', band(c.data)).attr('fill', c.color).attr('stroke', c.color).attr('stroke-width', .6)
        })
    }
    const dots = (data, color, r) => g.append('g').selectAll('circle').data(data).enter().append('circle')
        .attr('cx', d => x(d[0])).attr('cy', d => y(d[1])).attr('r', r).attr('fill', color)
    if (cfg.gaps) dots(cfg.gaps, '#fff', 1.5)
    dots(cfg.grey, '#5e5e5e', cfg.r)
    dots(cfg.down, '#f00', cfg.r)
    dots(cfg.up, '#0000e6', cfg.r)

    const dash = (x1, x2, y1, y2) => g.append('line')
        .attr('x1', x1).attr('x2', x2).attr('y1', y1).attr('y2', y2)
        .attr('stroke', '#b5b5b5').attr('stroke-width', 1.2).attr('stroke-dasharray', '5,4')
    dash(x(-1), x(-1), f.t + 5, f.b)
    dash(x(1), x(1), f.t + 5, f.b)
    dash(f.l, f.r, y(1.3), y(1.3))

    g.append('rect').attr('x', f.l).attr('y', f.t).attr('width', f.r - f.l).attr('height', f.b - f.t)
        .attr('fill', 'none').attr('stroke', '#6e6ee0').attr('stroke-width', 1.8)

    const xAxis = g.append('g').attr('transform', `translate(0,${f.b})`)
        .call(d3.axisBottom(x).tickValues(cfg.xTicks).tickSize(3))
    const yAxis = g.append('g').attr('transform', `translate(${f.l},0)`)
        .call(d3.axisLeft(y).tickValues([0, 5, 10, 15]).tickSize(3))
    ;[xAxis, yAxis].forEach(a => {
        a.select('.domain').remove()
        a.selectAll('text').attr('font-size', 9.5).attr('fill', '#4d4d4d').style('font-family', '"Liberation Sans"')
        a.selectAll('line').attr('stroke', '#555')
    })

    cfg.legend.ys.forEach((ly, i) => {
        g.append('circle').attr('cx', cfg.legend.dot).attr('cy', ly).attr('r', 1.3)
            .attr('fill', ['#0000e6', '#f00', '#5e5e5e'][i])
        addText(g, ['up', 'down', 'no diff'][i], cfg.legend.text, ly + 3, 8.5, { anchor: 'start' })
    })
    addText(g, 'log2 Fold Change', cfg.xTitle[0], cfg.xTitle[1], 11, { len: cfg.xTitle[2] })
    addText(g, '\u2212log10 adj.P.Val', cfg.yTitle[0] + 4, 215, 11, { rotate: -90, len: 77 })
    addText(g, cfg.title[0], cfg.title[1], cfg.title[2], cfg.title[3], { len: cfg.title[4] })
}

const heatColor = d3.scaleLinear().domain([-7.4, 4.65, 16.7]).range(['#0a6bc4', '#ffffff', '#e0281e'])
const grpColors = ['#2ca25f', '#66c2a4', '#b2e2dc', '#e8f6f8']

const drawHeat = (cfg) => {
    const g = svg.append('g')
    const x = d3.scaleBand().domain(samples).range([cfg.left, cfg.right])
    const total = d3.sum(cfg.share)
    const y = d3.scaleLinear().domain([0, total]).range([cfg.top, cfg.bottom])
    const starts = d3.cumsum([0].concat(cfg.share))

    // group bar
    g.append('rect').attr('x', x(samples[0])).attr('y', cfg.barTop)
        .attr('width', x.bandwidth() * 9).attr('height', cfg.barBottom - cfg.barTop).attr('fill', grpColors[3])
    g.append('rect').attr('x', x(samples[9])).attr('y', cfg.barTop)
        .attr('width', x.bandwidth() * 9).attr('height', cfg.barBottom - cfg.barTop).attr('fill', grpColors[0])

    cfg.rows.forEach((row, r) => {
        g.append('g').selectAll('rect').data(row).enter().append('rect')
            .attr('x', (_, c) => x(samples[c]))
            .attr('y', y(starts[r]))
            .attr('width', x.bandwidth() + .5)
            .attr('height', y(starts[r + 1]) - y(starts[r]) + .5)
            .attr('fill', d => heatColor(d))
    })

    // individual gene rows showing through the bands
    const rowY = d3.scaleLinear().domain([0, 1]).range([cfg.top, cfg.bottom])
    cfg.streaks.forEach(s => {
        g.append('rect').attr('x', cfg.left).attr('width', cfg.right - cfg.left)
            .attr('y', rowY(s[0])).attr('height', s[2])
            .attr('fill', s[1] > 0 ? '#fff' : '#2a78c8').attr('opacity', s[1] > 0 ? .26 : .13)
    })

    samples.forEach(s => {
        addText(g, s, x(s) + x.bandwidth() / 2 - 4.3, cfg.labelTop, 12, { anchor: 'start', rotate: 90, len: cfg.labelLen, fill: '#111' })
    })

    // dendrogram
    const depth = d3.scaleLinear().domain([0, 1]).range([cfg.left, cfg.treeRoot])
    const paths = g.append('g').attr('fill', 'none').attr('stroke', '#222').attr('stroke-width', .9)
    const walk = (node) => {
        if (typeof node === 'number') return { h: 0, y: rowY(node) }
        const a = walk(node[1]), b = walk(node[2])
        const px = depth(node[0])
        paths.append('path').attr('d', `M${depth(a.h)},${a.y}H${px}V${b.y}H${depth(b.h)}`)
        return { h: node[0], y: (a.y + b.y) / 2 }
    }
    walk(cfg.tree)
    const leaves = d3.range(cfg.top, cfg.bottom, 1.6)
    const fringeW = cfg.left - cfg.treeRoot
    leaves.forEach((ly, i) => {
        const d = fringeDepth[i % fringeDepth.length] * fringeW * .48
        g.append('line').attr('x1', cfg.left).attr('x2', cfg.left - d).attr('y1', ly).attr('y2', ly)
            .attr('stroke', '#111').attr('stroke-width', i % 3 === 0 ? 1 : .7)
        if (i % 7 === 0) g.append('line').attr('x1', cfg.left - d).attr('x2', cfg.left - d)
            .attr('y1', ly).attr('y2', ly + 9).attr('stroke', '#222').attr('stroke-width', .7)
    })
    g.append('rect').attr('x', cfg.left - 7).attr('y', cfg.top).attr('width', 7)
        .attr('height', cfg.bottom - cfg.top).attr('fill', '#000')

    addText(g, 'grp', cfg.right + 4, cfg.barBottom - 1, 13, { anchor: 'start', weight: 'bold' })

    // colour bar
    const cb = cfg.bar
    const barY = d3.scaleLinear().domain(cb.anchor).range(cb.anchorPx)
    d3.range(-7.4, 16.7, .55).forEach(v => {
        g.append('rect').attr('x', cb.x).attr('width', cb.w).attr('y', barY(v + .55)).attr('height', barY(v) - barY(v + .55) + .5)
            .attr('fill', heatColor(v + .27))
    })
    colorbarTicks.forEach(v => {
        const label = v < 0 ? '\u2212' + (-v) : String(v)
        addText(g, label, cb.x + cb.w + 4, barY(v) + 4.5, 12.5, { anchor: 'start', fill: '#222' })
    })

    // grp legend
    const lg = cfg.legend
    addText(g, 'grp', lg.x, lg.top - 4, 13, { anchor: 'start', weight: 'bold' })
    grpColors.forEach((c, i) => {
        g.append('rect').attr('x', lg.x).attr('y', lg.top + i * (lg.bottom - lg.top) / 4)
            .attr('width', lg.w).attr('height', (lg.bottom - lg.top) / 4 + .3).attr('fill', c)
    })
    addText(g, '1', lg.x + lg.w + 4, lg.top + 14, 12.5, { anchor: 'start', fill: '#222' })
    addText(g, '0', lg.x + lg.w + 4, lg.bottom - 4, 12.5, { anchor: 'start', fill: '#222' })
    addText(g, cfg.title[0], cfg.title[1], cfg.title[2], cfg.title[3], { len: cfg.title[4] })
}

// the GSEA panels are vertically stretched in the figure, so tick glyphs are squeezed sideways
const styleAxis = (a, size, squeeze) => {
    a.select('.domain').remove()
    a.selectAll('text').attr('font-size', size).attr('fill', '#111').style('font-family', '"Liberation Sans"')
        .each(function () {
            d3.select(this).attr('textLength', this.getComputedTextLength() * squeeze).attr('lengthAdjust', 'spacingAndGlyphs')
        })
    a.selectAll('line').attr('stroke', '#333')
}

const drawGsea = (cfg) => {
    const g = svg.append('g')
    const f = cfg.frame
    const x = d3.scaleLinear().domain([0, 15000]).range(cfg.xPx)
    const yTop = d3.scaleLinear().domain(cfg.topAnchor).range(cfg.topPx)
    const yBot = d3.scaleLinear().domain(cfg.botAnchor).range(cfg.botPx)
    const fmtTop = d3.format(cfg.topFmt)
    const fmtBot = d3.format('.1f')

    const grid = (top, bottom, yScale, major, minor) => {
        rankMinorTicks.forEach(v => g.append('line').attr('x1', x(v)).attr('x2', x(v)).attr('y1', top).attr('y2', bottom)
            .attr('stroke', '#f2f2f2').attr('stroke-width', .8))
        rankTicks.forEach(v => g.append('line').attr('x1', x(v)).attr('x2', x(v)).attr('y1', top).attr('y2', bottom)
            .attr('stroke', '#e8e8e8').attr('stroke-width', 1.2))
        minor.forEach(v => g.append('line').attr('x1', f.l).attr('x2', f.r).attr('y1', yScale(v)).attr('y2', yScale(v))
            .attr('stroke', '#f2f2f2').attr('stroke-width', .8))
        major.forEach(v => g.append('line').attr('x1', f.l).attr('x2', f.r).attr('y1', yScale(v)).attr('y2', yScale(v))
            .attr('stroke', '#e8e8e8').attr('stroke-width', 1.2))
    }
    grid(f.topT, f.topB, yTop, cfg.topTicks, cfg.topMinor)
    grid(f.botT, f.botB, yBot, cfg.botTicks, cfg.botMinor)

    g.append('g').selectAll('line').data(cfg.hits).enter().append('line')
        .attr('x1', d => x(d[0])).attr('x2', d => x(d[0]))
        .attr('y1', yTop(0)).attr('y2', d => yTop(d[1]))
        .attr('stroke', '#000').attr('stroke-width', 1.4)

    g.append('line').attr('x1', f.l).attr('x2', f.r).attr('y1', yBot(0)).attr('y2', yBot(0))
        .attr('stroke', '#000').attr('stroke-width', 1.1)
    g.append('g').selectAll('line').data(cfg.hits).enter().append('line')
        .attr('x1', d => x(d[0])).attr('x2', d => x(d[0]))
        .attr('y1', yBot(-.029)).attr('y2', yBot(.029))
        .attr('stroke', '#000').attr('stroke-width', 1.2)
    g.append('line').attr('x1', x(cfg.peak)).attr('x2', x(cfg.peak)).attr('y1', f.botT).attr('y2', f.botB)
        .attr('stroke', '#ee3a62').attr('stroke-width', 1.3).attr('stroke-dasharray', '5,4')
    g.append('path')
        .attr('d', d3.line().x(d => x(d[0])).y(d => yBot(d[1]))(cfg.es))
        .attr('fill', 'none').attr('stroke', '#0aee0a').attr('stroke-width', 2.4)

    ;[[f.topT, f.topB], [f.botT, f.botB]].forEach(([t, b]) => {
        g.append('rect').attr('x', f.l).attr('y', t).attr('width', f.r - f.l).attr('height', b - t)
            .attr('fill', 'none').attr('stroke', '#8a8a8a').attr('stroke-width', 1.3)
    })

    styleAxis(g.append('g').attr('transform', `translate(${f.l},0)`)
        .call(d3.axisLeft(yTop).tickValues(cfg.topTicks).tickSize(2.5).tickFormat(fmtTop)), cfg.tickFont, cfg.squeeze)
    styleAxis(g.append('g').attr('transform', `translate(${f.l},0)`)
        .call(d3.axisLeft(yBot).tickValues(cfg.botTicks).tickSize(2.5).tickFormat(fmtBot)), cfg.tickFont, cfg.squeeze)
    styleAxis(g.append('g').attr('transform', `translate(0,${f.botB})`)
        .call(d3.axisBottom(x).tickValues(rankTicks).tickSize(2.5).tickFormat(d3.format('d'))), cfg.tickFont, cfg.squeeze)

    addText(g, 'Position in the Ranked List of Genes', cfg.xTitle[0], cfg.xTitle[1], cfg.titleFont, { len: cfg.xTitle[2] })
    const yx = f.l - cfg.yOff
    addText(g, 'Ranked list metric', yx, (f.topT + f.topB) / 2, 14, { rotate: -90, len: cfg.lenRank })
    addText(g, 'Running Enrichment Score', yx, (f.botT + f.botB) / 2, 14, { rotate: -90, len: cfg.lenRun })
    cfg.titles.forEach(t => addText(g, t[0], t[1], t[2], t[4] || 25, { len: t[3] }))
}

// ---------- panels ----------
const bigCores = [{ data: bigGreyLeft, color: '#5e5e5e' }, { data: bigGreyRight, color: '#5e5e5e' }, { data: bigUpCore, color: '#0000e6' }, { data: bigDownCore, color: '#f00' }]
const bigSpecks = bigGaps.concat(bigEdgeBites)
drawVolcano({ frame: { l: 55.4, r: 437.5, t: 34, b: 396 }, xPx: [131.8, 318.9], yPx: [379.7, 57.7], xTicks: [-5, 0, 5, 10],
    cores: bigCores,
    up: bigUpPoints.concat(bigUpFringe), down: bigDownPoints.concat(bigDownFringe), grey: bigGreyPoints, gaps: bigSpecks, r: 1.25,
    legend: { dot: 78.6, text: 92, ys: [57, 73, 90] }, xTitle: [246.4, 418.7, 84], yTitle: [32], title: ['all genes', 252, 22, 24, 113] })
drawVolcano({ frame: { l: 635, r: 1019, t: 34, b: 395 }, xPx: [676.3, 913], yPx: [379, 58.7], xTicks: [-5, 0, 5],
    up: lncUpPoints, down: lncDownPoints, grey: lncGreyPoints, r: 1.35,
    legend: { dot: 658.3, text: 672, ys: [57, 74, 90] }, xTitle: [827, 418, 85], yTitle: [611.7], title: ['lncRNAs', 828, 27, 25, 108] })
drawVolcano({ frame: { l: 1210, r: 1588, t: 34.7, b: 397 }, xPx: [1285.7, 1471.3], yPx: [381.3, 57], xTicks: [-5, 0, 5, 10],
    cores: bigCores,
    up: bigUpPoints.concat(bigUpFringe), down: bigDownPoints.concat(bigDownFringe), grey: bigGreyPoints, gaps: bigSpecks, r: 1.25,
    legend: { dot: 1233, text: 1247, ys: [58, 74, 91] }, xTitle: [1398.7, 420, 83], yTitle: [1187], title: ['mRNAs', 1402, 27, 25, 96] })

drawHeat({ left: 70.7, right: 419.3, top: 532.5, bottom: 935.4, barTop: 515.7, barBottom: 528.2, labelTop: 939.6, labelLen: 75, treeRoot: 12.5,
    rows: allRows, share: allRowShare, tree: allTree, streaks: geneStreaks,
    bar: { x: 425.4, w: 11, anchor: [15, -5], anchorPx: [545, 698.6] },
    legend: { x: 457.5, w: 15, top: 545, bottom: 615.7 }, title: ['all genes', 253.6, 502.9, 24, 112.5] })
drawHeat({ left: 635.2, right: 1017.2, top: 532.5, bottom: 931.4, barTop: 516.8, barBottom: 528.9, labelTop: 936, labelLen: 71.4, treeRoot: 570.3,
    rows: lncRows, share: lncRowShare, tree: lncTree, streaks: geneStreaks,
    bar: { x: 1023, w: 12, anchor: [15, -5], anchorPx: [544.3, 695] },
    legend: { x: 1058.3, w: 17.2, top: 545.7, bottom: 615.7 }, title: ['lncRNAs', 827.2, 503.9, 24, 110] })
drawHeat({ left: 1209.6, right: 1584.4, top: 533.2, bottom: 933.6, barTop: 517, barBottom: 529, labelTop: 938.6, labelLen: 75, treeRoot: 1146.6,
    rows: mrnaRows, share: mrnaRowShare, tree: mrnaTree, streaks: geneStreaks,
    bar: { x: 1590.5, w: 12, anchor: [15, -5], anchorPx: [545.7, 698.6] },
    legend: { x: 1624.8, w: 17.7, top: 546, bottom: 616.4 }, title: ['mRNAs', 1396.3, 501.4, 24, 96] })

const topSix = { topFmt: 'd', topTicks: [6, 4, 2, 0, -2], topMinor: [5, 3, 1, -1] }
const botFive = { botTicks: [.5, .4, .3, .2, .1, 0], botMinor: [.45, .35, .25, .15, .05] }
drawGsea({ frame: { l: 51, r: 449, topT: 1165.1, topB: 1462.8, botT: 1480.4, botB: 1770.7 }, xPx: [68.9, 358.9],
    topAnchor: [8, 0], topPx: [1180.3, 1401.8], botAnchor: [.6, 0], botPx: [1483.9, 1745.7],
    topFmt: 'd', topTicks: [8, 6, 4, 2, 0, -2], topMinor: [7, 5, 3, 1, -1], botTicks: [.6, .4, .2, 0], botMinor: [.5, .3, .1],
    hits: hitsC, es: esC, peak: 5926, xTitle: [250, 1809, 236], titleFont: 17, tickFont: 18, squeeze: .75, yOff: 32, lenRank: 135, lenRun: 200,
    titles: [['GO: phospholipase C-activating G protein-coupled', 267.9, 1118, 531], ['receptor signaling pathway', 248.7, 1150.9, 283]] })
drawGsea({ frame: { l: 628.3, r: 1030, topT: 1161.5, topB: 1461.5, botT: 1478, botB: 1772.7 }, xPx: [646, 938.7],
    topAnchor: [7.5, 0], topPx: [1164.6, 1395], botAnchor: [.4, 0], botPx: [1565.5, 1746.3],
    topFmt: '.1f', topTicks: [7.5, 5, 2.5, 0], topMinor: [6.25, 3.75, 1.25, -1.25], botTicks: [.4, .2, 0], botMinor: [.5, .3, .1],
    hits: hitsD, es: esD, peak: 4830, xTitle: [828.8, 1809.7, 238], titleFont: 16, tickFont: 16.5, squeeze: .85, yOff: 32, lenRank: 135, lenRun: 203,
    titles: [['GO: limbic system development', 836.7, 1150.4, 360]] })
drawGsea({ frame: { l: 1202.7, r: 1600.7, topT: 1164.6, topB: 1462, botT: 1479, botB: 1770 }, xPx: [1220.7, 1511],
    topAnchor: [5, 0], topPx: [1240, 1397.2], botAnchor: [.5, 0], botPx: [1495, 1744.6],
    topFmt: '.1f', topTicks: [5, 2.5, 0], topMinor: [6.25, 3.75, 1.25, -1.25], botTicks: botFive.botTicks, botMinor: botFive.botMinor,
    hits: hitsE, es: esE, peak: 5980, xTitle: [1401.7, 1807.5, 235], titleFont: 16, tickFont: 16.5, squeeze: .85, yOff: 31, lenRank: 133, lenRun: 201,
    titles: [['GO: positive regulation of ion transmembrane', 1401, 1117, 482, 23.5], ['transporter activity', 1397.5, 1150.4, 195]] })
drawGsea({ ...topSix, ...botFive, frame: { l: 51, r: 449, topT: 1937, topB: 2195.4, botT: 2210.7, botB: 2464 }, xPx: [69, 359],
    topAnchor: [6, -2], topPx: [1957.8, 2193.3], botAnchor: [.5, 0], botPx: [2219.8, 2442],
    hits: hitsF, es: esF, peak: 4900, xTitle: [250, 2496.8, 235], titleFont: 15, tickFont: 15, squeeze: .95, yOff: 32, lenRank: 115, lenRun: 174,
    titles: [['GO: negative regulation of', 250, 1894.8, 298], ['leukocyte differentiation', 249, 1925.5, 268]] })
drawGsea({ frame: { l: 632.7, r: 1026, topT: 1938.3, topB: 2196.6, botT: 2211.5, botB: 2464.4 }, xPx: [650.3, 937.7],
    topAnchor: [10, 0], topPx: [1957.8, 2152.7], botAnchor: [.4, 0], botPx: [2285.3, 2442.5],
    topFmt: '.1f', topTicks: [10, 7.5, 5, 2.5, 0], topMinor: [8.75, 6.25, 3.75, 1.25, -1.25], botTicks: [.4, .2, 0], botMinor: [.5, .3, .1],
    hits: hitsG, es: esG, peak: 4890, xTitle: [829.5, 2497.6, 238], titleFont: 15, tickFont: 15, squeeze: .95, yOff: 39.7, lenRank: 116, lenRun: 173,
    titles: [['KEGG: Arachidonic acid metabolism', 832, 1927.5, 410]] })
drawGsea({ ...topSix, ...botFive, frame: { l: 1206, r: 1603.3, topT: 1937, topB: 2195.8, botT: 2210.7, botB: 2464.4 }, xPx: [1224, 1513.7],
    topAnchor: [6, -2], topPx: [1955.7, 2194], botAnchor: [.5, 0], botPx: [2218.6, 2442],
    hits: hitsH, es: esH, peak: 4335, xTitle: [1404.5, 2497, 236], titleFont: 15, tickFont: 15, squeeze: .95, yOff: 32, lenRank: 116, lenRun: 174,
    titles: [['KEGG: Glycerophospholipid metabolism', 1403.5, 1924.6, 456]] })

// panel letters
const panelLetters = [['A', 4, 29], ['B', 4, 503], ['C', 4, 1087], ['D', 568, 1087], ['E', 1100, 1087], ['F', 4, 1877], ['G', 568, 1876], ['H', 1100, 1876]]
panelLetters.forEach(l => addText(svg, l[0], l[1], l[2], 31, { anchor: 'start', weight: 'bold' }))
</script>
</body>
</html>
